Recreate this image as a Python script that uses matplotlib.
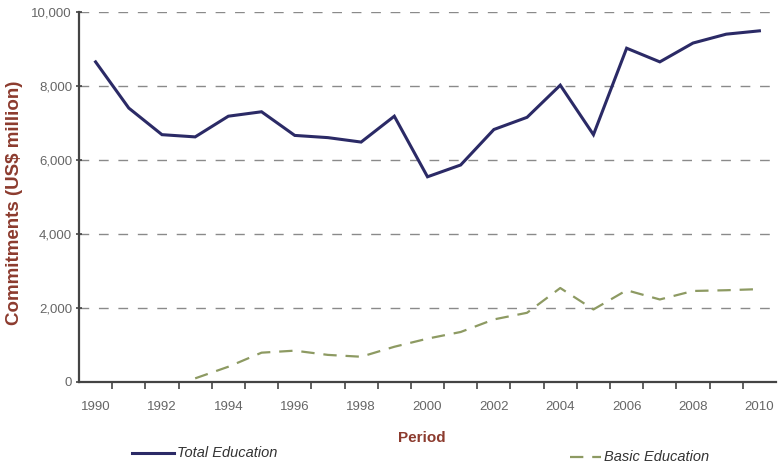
import numpy as np
import matplotlib
matplotlib.use('Agg')
import matplotlib.pyplot as plt
from matplotlib.lines import Line2D

years = list(range(1990, 2011))
total_education = [8650, 7400, 6680, 6620, 7180, 7300, 6660, 6600, 6480, 7180,
                   5540, 5860, 6820, 7150, 8020, 6680, 9020, 8650, 9160, 9400, 9490]
# basic education series starts in 1993
basic_years = list(range(1993, 2011))
basic_education = [85, 400, 780, 835, 720, 670, 940, 1160, 1340, 1680,
                   1860, 2530, 1950, 2470, 2220, 2450, 2470, 2500]

label_color = '#8c3b2e'
tick_color = '#666666'
navy = '#2b2a66'
olive = '#8d9a62'

plt.rcParams['font.family'] = ['Liberation Sans', 'DejaVu Sans']

fig = plt.figure(figsize=(7.78, 4.68), dpi=100)
ax = fig.add_axes([79 / 778, 1 - 381.5 / 468, (776 - 79) / 778, (381.5 - 12) / 468])

ax.plot(years, total_education, color=navy, lw=2.2, solid_joinstyle='miter')
ax.plot(basic_years, basic_education, color=olive, lw=1.6, dashes=(6, 4))

ax.set_xlim(1989.5, 2010.5)
ax.set_ylim(0, 10000)

ax.set_yticks(np.arange(0, 10001, 2000))
ax.set_yticklabels(['{:,}'.format(v) for v in range(0, 10001, 2000)])
for v in range(2000, 10001, 2000):
    ax.axhline(v, color='#8a8a8a', lw=1.0, dashes=(7, 7), zorder=0)

ax.set_xticks(range(1990, 2011, 2))
ax.set_xticks(np.arange(1990.5, 2010, 1), minor=True)
ax.tick_params(axis='x', which='major', length=0, pad=14, labelsize=9.5, labelcolor=tick_color)
ax.tick_params(axis='x', which='minor', length=5, width=1.2, direction='out', color='#444444')
ax.tick_params(axis='y', length=4, width=1.2, direction='inout', color='#444444',
               labelsize=9.5, labelcolor=tick_color, pad=3)

for side in ['top', 'right']:
    ax.spines[side].set_visible(False)
for side in ['left', 'bottom']:
    ax.spines[side].set_color('#444444')
    ax.spines[side].set_linewidth(1.6)

fig.text(15 / 778, 1 - 203 / 468, 'Commitments (US$ million)', rotation=90,
         ha='center', va='center', fontsize=13.5, fontweight='bold', color=label_color)
fig.text(422 / 778, 1 - 438 / 468, 'Period', ha='center', va='center',
         fontsize=11, fontweight='bold', color=label_color)

# legend entries sit apart at the bottom of the figure
fig.add_artist(Line2D([132 / 778, 174 / 778], [1 - 453 / 468] * 2, color=navy, lw=2.2))
fig.text(177 / 778, 1 - 453 / 468, 'Total Education', ha='left', va='center',
         fontsize=10.5, style='italic', color='#333333')
fig.add_artist(Line2D([570 / 778, 601 / 778], [1 - 457 / 468] * 2, color=olive, lw=1.6,
                      dashes=(6, 4)))
fig.text(604 / 778, 1 - 457 / 468, 'Basic Education', ha='left', va='center',
         fontsize=10.5, style='italic', color='#333333')

fig.savefig('out.png', dpi=100)
